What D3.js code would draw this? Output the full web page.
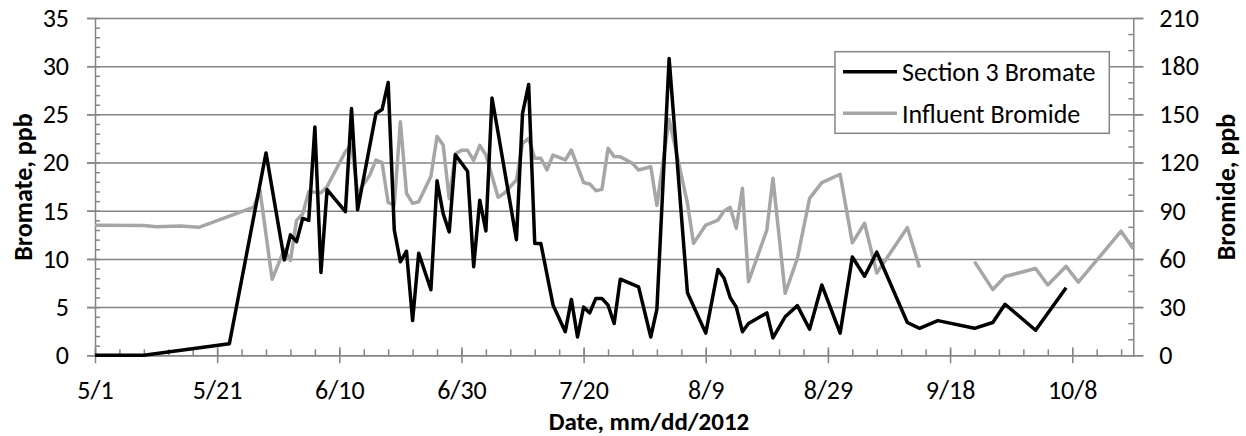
<!DOCTYPE html>
<html>
<head>
<meta charset="utf-8">
<script src="https://cdn.jsdelivr.net/npm/d3@7"></script>
<style>
  body { margin: 0; background: #fff; }
  svg text { font-family: Carlito, Calibri, Lato, sans-serif; fill: #000; }
</style>
</head>
<body>
<svg id="chart" width="1246" height="436"></svg>
<script>
// values (dates are 2012)
const bromateDates = ['5/1','5/9','5/23','5/29','6/1','6/2','6/3','6/4','6/5','6/6','6/7','6/8','6/11','6/12','6/13',
  '6/16','6/17','6/18','6/19','6/20','6/21','6/22','6/23','6/25','6/26','6/27','6/28','6/29','7/1','7/2','7/3','7/4',
  '7/5','7/6','7/9','7/10','7/11','7/12','7/13','7/15','7/17','7/18','7/19','7/20','7/21','7/22','7/23','7/24','7/25',
  '7/26','7/29','7/31','8/1','8/3','8/6','8/9','8/11','8/12','8/13','8/14','8/15','8/16','8/19','8/20','8/22','8/24',
  '8/26','8/28','8/31','9/2','9/4','9/6','9/11','9/13','9/16','9/22','9/25','9/27','10/2','10/7'];
const bromateValues = [0,0,1.2,21.0,9.9,12.5,11.8,14.2,14.0,23.7,8.6,17.2,14.9,25.6,15.1,
  25.1,25.5,28.3,13.0,9.7,10.8,3.6,10.6,6.8,18.1,14.7,12.8,20.8,19.1,9.2,16.1,12.9,
  26.7,23.1,12.0,25.1,28.1,11.6,11.6,5.2,2.45,5.8,1.9,5.0,4.4,5.9,5.9,5.2,3.3,
  7.9,7.1,1.9,4.8,30.8,6.5,2.3,8.9,8.0,6.0,5.0,2.45,3.3,4.4,1.8,4.0,5.15,
  2.7,7.3,2.3,10.2,8.2,10.7,3.4,2.8,3.6,2.8,3.4,5.3,2.6,7.0];

const bromideDates = ['5/1','5/9','5/11','5/15','5/18','5/27','5/28','5/30','6/1','6/2','6/3','6/4','6/5','6/7','6/8',
  '6/11','6/12','6/13','6/15','6/16','6/17','6/18','6/19','6/20','6/21','6/22','6/23','6/25','6/26','6/27','6/28',
  '6/29','6/30','7/1','7/2','7/3','7/4','7/6','7/7','7/9','7/10','7/11','7/12','7/13','7/14','7/15','7/17','7/18',
  '7/20','7/21','7/22','7/23','7/24','7/25','7/26','7/28','7/29','7/31','8/1','8/3','8/6','8/7','8/9','8/11','8/12',
  '8/13','8/14','8/15','8/16','8/19','8/20','8/22','8/24','8/26','8/28','8/31','9/2','9/4','9/6','9/11','9/13',
  '9/18','9/22','9/25','9/27','10/2','10/4','10/7','10/9','10/16','10/18'];
const bromideValues = [81,80.8,80.1,80.5,79.7,92.3,103,47.3,66,59,84,88,101.9,101.2,105,
  126.8,130.9,100.9,112.3,121.6,119.9,95,93.6,145.4,100.9,94.6,95.6,111.5,136.3,130.9,97.4,
  125.5,127.6,127.6,121.4,130.7,124.7,98.4,100.9,109.1,132,135.1,122.7,122.7,115.4,124.7,121.6,127.8,
  107.5,106.7,102.5,103.3,128.9,123.7,123.6,119.5,115.4,117.4,93.2,147,94.6,69.7,81.1,84.2,89.8,
  92.1,79.1,104,45.8,78,110.2,38.6,60.4,97.7,107.5,112.7,70,82.2,51.2,79.5,54.7,
  null,58.3,40.9,49.1,54,43.8,55.4,45.5,77.3,66.3];

const dateDomain = ['5/1', '10/18'];
const dateTicks = ['5/1','5/21','6/10','6/30','7/20','8/9','8/29','9/18','10/8'];
const leftTicks = [0, 5, 10, 15, 20, 25, 30, 35];
const rightTicks = [0, 30, 60, 90, 120, 150, 180, 210];
const seriesNames = ['Section 3 Bromate', 'Influent Bromide'];

const plotLeft = 95, plotRight = 1133.3, plotTop = 18, plotBottom = 355.3;
const axisColor = '#858585';
const fontSize = 26;
const lineWidth = 3.5;

const parse = d3.timeParse('%m/%d/%Y');
const toDate = s => parse(s + '/2012');

const x = d3.scaleTime().domain(dateDomain.map(toDate)).range([plotLeft, plotRight]);
const yL = d3.scaleLinear().domain([0, 35]).range([plotBottom, plotTop]);
const yR = d3.scaleLinear().domain([0, 210]).range([plotBottom, plotTop]);

const svg = d3.select('#chart');

const styleAxis = g => {
  g.selectAll('line').attr('stroke', axisColor).attr('stroke-width', 1.5);
  g.selectAll('.domain').attr('stroke', axisColor).attr('stroke-width', 1.5);
  g.selectAll('text').attr('font-size', fontSize).attr('fill', '#000');
};

// gridlines
svg.append('g')
  .attr('transform', `translate(${plotLeft - 8},0)`)
  .call(d3.axisRight(yL).tickValues(leftTicks).tickSize(plotRight + 10 - (plotLeft - 8)).tickFormat(''))
  .call(g => g.select('.domain').remove())
  .call(styleAxis);

// left axis: line, minor ticks, labels
svg.append('g')
  .attr('transform', `translate(${plotLeft},0)`)
  .call(d3.axisRight(yL).tickValues(d3.range(0, 36, 1)).tickSize(5).tickSizeOuter(0).tickFormat(''))
  .call(styleAxis);
svg.append('g')
  .attr('transform', `translate(${plotLeft},0)`)
  .call(d3.axisLeft(yL).tickValues(leftTicks).tickSize(8).tickPadding(18).tickFormat(d3.format('d')))
  .call(g => g.select('.domain').remove())
  .call(styleAxis);

// right axis
svg.append('g')
  .attr('transform', `translate(${plotRight},0)`)
  .call(d3.axisLeft(yR).tickValues(d3.range(0, 211, 10).filter(d => d % 30)).tickSize(5).tickSizeOuter(0).tickFormat(''))
  .call(styleAxis);
svg.append('g')
  .attr('transform', `translate(${plotRight},0)`)
  .call(d3.axisRight(yR).tickValues(rightTicks).tickSize(10).tickPadding(16).tickFormat(d3.format('d')))
  .call(g => g.select('.domain').remove())
  .call(styleAxis);

// x axis
const minorDays = d3.timeDay.range(x.domain()[0], d3.timeDay.offset(x.domain()[1], 1), 4);
svg.append('g')
  .attr('transform', `translate(0,${plotBottom})`)
  .call(d3.axisTop(x).tickValues(minorDays).tickSize(6).tickSizeOuter(0).tickFormat(''))
  .call(styleAxis);
svg.append('g')
  .attr('transform', `translate(0,${plotBottom})`)
  .call(d3.axisTop(x).tickValues(dateTicks.map(toDate)).tickSize(8).tickFormat(''))
  .call(g => g.select('.domain').remove())
  .call(styleAxis);
svg.append('g')
  .attr('transform', `translate(0,${plotBottom})`)
  .call(d3.axisBottom(x).tickValues(dateTicks.map(toDate)).tickSize(8).tickPadding(17).tickFormat(d3.timeFormat('%-m/%-d')))
  .call(g => g.select('.domain').remove())
  .call(styleAxis);

// axis titles
svg.append('text')
  .attr('transform', 'translate(32,187) rotate(-90)')
  .attr('text-anchor', 'middle')
  .attr('font-size', fontSize).attr('font-weight', 'bold')
  .text('Bromate, ppb');
svg.append('text')
  .attr('transform', 'translate(1235,187) rotate(-90)')
  .attr('text-anchor', 'middle')
  .attr('font-size', fontSize).attr('font-weight', 'bold')
  .text('Bromide, ppb');
svg.append('text')
  .attr('x', 649).attr('y', 429.5)
  .attr('text-anchor', 'middle')
  .attr('font-size', 25).attr('font-weight', 'bold')
  .text('Date, mm/dd/2012');

// series
const bromate = bromateDates.map((d, i) => ({ date: toDate(d), v: bromateValues[i] }));
const bromide = bromideDates.map((d, i) => ({ date: toDate(d), v: bromideValues[i] }));

svg.append('path')
  .datum(bromide)
  .attr('fill', 'none').attr('stroke', '#a6a6a6').attr('stroke-width', lineWidth)
  .attr('stroke-linejoin', 'round')
  .attr('d', d3.line().defined(d => d.v != null).x(d => x(d.date)).y(d => yR(d.v)));

svg.append('path')
  .datum(bromate)
  .attr('fill', 'none').attr('stroke', '#000').attr('stroke-width', lineWidth)
  .attr('stroke-linejoin', 'round')
  .attr('d', d3.line().x(d => x(d.date)).y(d => yL(d.v)));

// legend
const legend = svg.append('g');
legend.append('rect')
  .attr('x', 835).attr('y', 51.7).attr('width', 274.3).attr('height', 81.6)
  .attr('fill', '#fff').attr('stroke', axisColor).attr('stroke-width', 1.5);
const legendColors = ['#000', '#a6a6a6'];
seriesNames.forEach((name, i) => {
  const cy = 71.7 + i * 41.6;
  legend.append('line')
    .attr('x1', 843).attr('x2', 897).attr('y1', cy).attr('y2', cy)
    .attr('stroke', legendColors[i]).attr('stroke-width', lineWidth);
  legend.append('text')
    .attr('x', 902).attr('y', cy + 9.3)
    .attr('font-size', fontSize)
    .text(name);
});
</script>
</body>
</html>
